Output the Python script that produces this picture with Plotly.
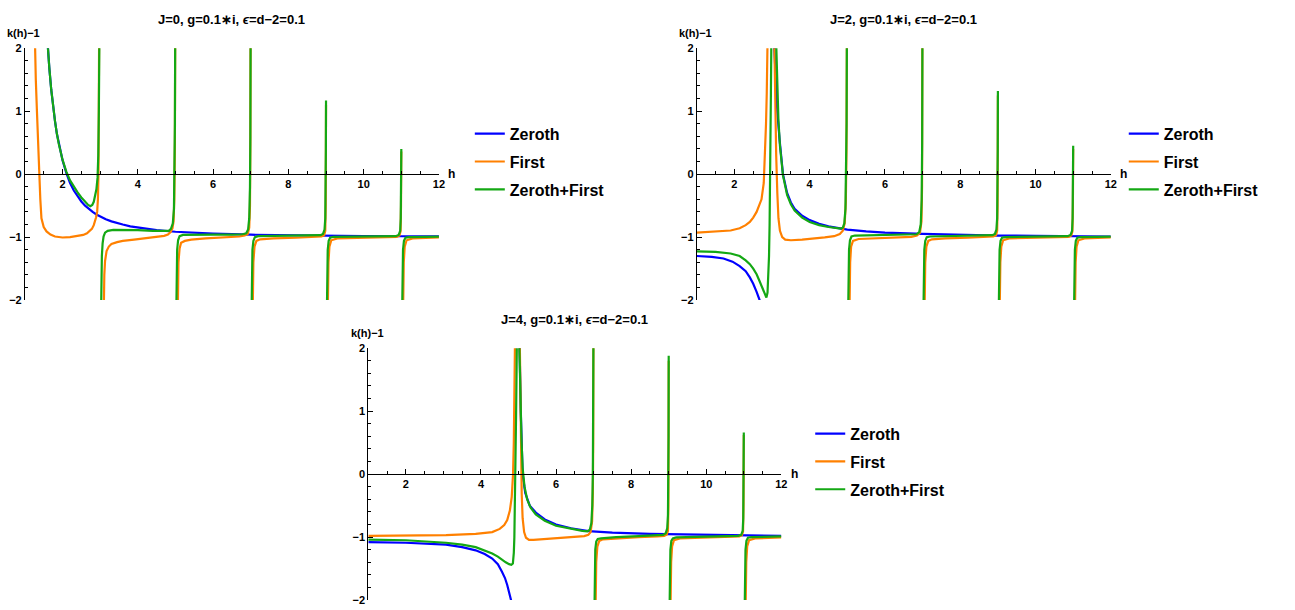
import plotly.graph_objects as go

# ── data (None = break between branches) ────────────────────────────────

TITLES = ["J=0, g=0.1∗i, <i>ϵ</i>=d−2=0.1",
          "J=2, g=0.1∗i, <i>ϵ</i>=d−2=0.1",
          "J=4, g=0.1∗i, <i>ϵ</i>=d−2=0.1"]
SERIES = ["Zeroth", "First", "Zeroth+First"]
X_TICKS = [2, 4, 6, 8, 10, 12]
Y_TICKS = [-2, -1, 0, 1, 2]

# J = 0
J0_ZEROTH_H = [1.58, 1.6, 1.65, 1.7, 1.75, 1.8, 1.85, 1.9, 2.0, 2.1, 2.2, 2.3, 2.4, 2.5, 2.6, 2.7,
               2.8, 2.9, 3.0, 3.15, 3.3, 3.45, 3.6, 3.8, 4.0, 4.25, 4.5, 5.0, 5.5, 6.0, 7.0, 8.0,
               9.0, 10.0, 11.0, 12.0]
J0_ZEROTH_Y = [2.28, 2.09, 1.68, 1.34, 1.07, 0.84, 0.64, 0.48, 0.22, 0.02, -0.14, -0.26, -0.355,
               -0.434, -0.50, -0.554, -0.60, -0.64, -0.675, -0.717, -0.75, -0.78, -0.80, -0.83,
               -0.85, -0.873, -0.89, -0.915, -0.933, -0.945, -0.962, -0.972, -0.978, -0.983,
               -0.986, -0.989]
J0_FIRST_H = [1.25, 1.265, 1.29, 1.32, 1.35, 1.38, 1.41, 1.44, 1.5, 1.575, 1.68, 1.8, 2.0, 2.2,
              2.4, 2.55, 2.65, 2.72, 2.78, 2.83, 2.86, 2.89, 2.92, 2.94, 2.955, 2.965, 2.975, None,
              3.085, 3.095, 3.11, 3.13, 3.17, 3.23, 3.3, 3.45, 3.6, 3.9, 4.2, 4.5, 4.7, 4.8, 4.87,
              4.92, 4.95, 4.97, 4.985, 4.995, None,
              5.055, 5.065, 5.08, 5.11, 5.15, 5.25, 5.42, 5.8, 6.3, 6.7, 6.84, 6.92, 6.96, 6.98,
              6.99, 6.997, None,
              7.045, 7.055, 7.07, 7.1, 7.15, 7.25, 7.6, 8.2, 8.7, 8.88, 8.95, 8.98, 8.992, 9.0, None,
              9.04, 9.05, 9.065, 9.09, 9.14, 9.3, 9.8, 10.5, 10.88, 10.95, 10.98, 10.992, 11.0, None,
              11.04, 11.05, 11.065, 11.09, 11.14, 11.3, 11.7, 12.0]
J0_FIRST_Y = [2.6, 2.0, 1.5, 1.0, 0.45, 0.0, -0.4, -0.7, -0.84, -0.91, -0.96, -0.99, -1.006, -1.0,
              -0.985, -0.965, -0.94, -0.91, -0.87, -0.81, -0.76, -0.69, -0.6, -0.4, 0.0, 0.8, 2.5, None,
              -2.6, -2.0, -1.6, -1.38, -1.22, -1.15, -1.11, -1.08, -1.06, -1.04, -1.02, -1.0, -0.98,
              -0.96, -0.92, -0.86, -0.75, -0.4, 0.5, 2.5, None,
              -2.5, -1.8, -1.4, -1.18, -1.09, -1.06, -1.04, -1.02, -1.005, -0.99, -0.975, -0.95,
              -0.85, -0.5, 0.5, 2.5, None,
              -2.5, -1.8, -1.4, -1.15, -1.06, -1.035, -1.02, -1.01, -1.0, -0.99, -0.97, -0.9, -0.5,
              1.1, None,
              -2.5, -1.8, -1.4, -1.15, -1.05, -1.02, -1.01, -1.005, -0.995, -0.975, -0.91, -0.5, 0.36,
              None,
              -2.5, -1.8, -1.4, -1.15, -1.05, -1.02, -1.01, -1.005]
J0_SUM_H = [1.58, 1.6, 1.65, 1.7, 1.75, 1.8, 1.85, 1.9, 2.0, 2.1, 2.2, 2.3, 2.4, 2.5, 2.6, 2.68,
            2.74, 2.79, 2.83, 2.87, 2.9, 2.93, 2.95, 2.965, 2.975, 2.985, None,
            3.015, 3.022, 3.03, 3.045, 3.065, 3.09, 3.13, 3.2, 3.35, 3.6, 4.0, 4.4, 4.7, 4.82, 4.88,
            4.93, 4.96, 4.975, 4.985, 4.995, None,
            5.015, 5.022, 5.03, 5.045, 5.07, 5.11, 5.2, 5.5, 6.0, 6.5, 6.78, 6.88, 6.93, 6.96, 6.98,
            6.99, 6.998, None,
            7.015, 7.022, 7.03, 7.045, 7.07, 7.11, 7.2, 7.6, 8.2, 8.7, 8.85, 8.92, 8.96, 8.98, 8.99,
            8.996, 9.0, None,
            9.015, 9.022, 9.03, 9.045, 9.07, 9.11, 9.2, 9.8, 10.5, 10.85, 10.93, 10.97, 10.985,
            10.993, 11.0, None,
            11.015, 11.022, 11.03, 11.045, 11.07, 11.11, 11.2, 11.6, 12.0]
J0_SUM_Y = [2.28, 2.09, 1.68, 1.34, 1.07, 0.84, 0.64, 0.48, 0.23, 0.04, -0.1, -0.2, -0.29, -0.37,
            -0.44, -0.49, -0.51, -0.49, -0.44, -0.35, -0.24, -0.06, 0.3, 1.0, 1.8, 2.6, None,
            -2.6, -2.0, -1.6, -1.3, -1.1, -0.99, -0.93, -0.9, -0.885, -0.885, -0.89, -0.9, -0.905,
            -0.9, -0.87, -0.78, -0.55, 0.0, 0.8, 2.5, None,
            -2.5, -1.9, -1.5, -1.2, -1.05, -0.985, -0.965, -0.96, -0.96, -0.96, -0.955, -0.94,
            -0.88, -0.7, -0.2, 0.6, 2.5, None,
            -2.5, -1.9, -1.5, -1.2, -1.06, -1.0, -0.985, -0.98, -0.978, -0.975, -0.97, -0.95,
            -0.88, -0.7, -0.3, 0.4, 1.17, None,
            -2.5, -1.9, -1.5, -1.2, -1.06, -1.01, -0.995, -0.99, -0.988, -0.985, -0.965, -0.9,
            -0.7, -0.3, 0.4, None,
            -2.5, -1.9, -1.5, -1.2, -1.06, -1.01, -1.0, -0.995, -0.993]

# J = 2
J2_ZEROTH_H = [1.0, 1.4, 1.71, 1.95, 2.14, 2.3, 2.41, 2.5, 2.59, 2.67, 2.72, None,
               3.02, 3.06, 3.1, 3.14, 3.2, 3.29, 3.4, 3.5, 3.6, 3.8, 4.0, 4.25, 4.5, 5.0, 5.5, 6.0,
               7.0, 8.0, 9.0, 10.0, 11.0, 12.0]
J2_ZEROTH_Y = [-1.30, -1.315, -1.34, -1.39, -1.46, -1.54, -1.64, -1.74, -1.87, -2.0, -2.15, None,
               2.5, 2.0, 1.45, 1.0, 0.55, 0.0, -0.3, -0.45, -0.55, -0.66, -0.73, -0.79, -0.83,
               -0.88, -0.91, -0.93, -0.95, -0.965, -0.975, -0.98, -0.985, -0.99]
J2_FIRST_H = [1.0, 1.5, 1.9, 2.14, 2.3, 2.41, 2.5, 2.59, 2.66, 2.72, 2.78, 2.815, 2.84, 2.86, 2.875,
              2.89, None,
              3.05, 3.07, 3.09, 3.11, 3.14, 3.17, 3.21, 3.27, 3.35, 3.5, 3.8, 4.1, 4.4, 4.65, 4.8,
              4.88, 4.93, 4.96, 4.978, 4.99, None,
              5.05, 5.06, 5.075, 5.1, 5.15, 5.3, 5.7, 6.3, 6.7, 6.85, 6.93, 6.97, 6.985, 6.995, None,
              7.045, 7.055, 7.07, 7.1, 7.15, 7.25, 7.6, 8.2, 8.7, 8.88, 8.95, 8.98, 8.992, 9.0, None,
              9.04, 9.05, 9.065, 9.09, 9.14, 9.3, 9.8, 10.5, 10.88, 10.95, 10.98, 10.992, 11.0, None,
              11.04, 11.05, 11.065, 11.09, 11.14, 11.3, 11.7, 12.0]
J2_FIRST_Y = [-0.93, -0.915, -0.895, -0.86, -0.81, -0.76, -0.69, -0.6, -0.5, -0.4, -0.14, 0.3, 0.8,
              1.3, 1.8, 2.5, None,
              2.5, 1.5, 0.9, 0.3, -0.3, -0.7, -0.9, -1.0, -1.04, -1.05, -1.04, -1.025, -1.005,
              -0.985, -0.95, -0.9, -0.78, -0.45, 0.4, 2.5, None,
              -2.5, -1.8, -1.4, -1.15, -1.06, -1.03, -1.02, -1.005, -0.995, -0.975, -0.93, -0.75,
              -0.2, 2.5, None,
              -2.5, -1.8, -1.4, -1.15, -1.06, -1.035, -1.02, -1.01, -1.0, -0.99, -0.97, -0.9, -0.5,
              1.25, None,
              -2.5, -1.8, -1.4, -1.15, -1.05, -1.02, -1.01, -1.005, -0.995, -0.975, -0.91, -0.5, 0.4,
              None,
              -2.5, -1.8, -1.4, -1.15, -1.05, -1.02, -1.01, -1.005]
J2_SUM_H = [1.0, 1.5, 1.9, 2.14, 2.3, 2.41, 2.5, 2.59, 2.67, 2.74, 2.8, 2.85, 2.88, 2.9, 2.92, 2.935,
            2.95, 2.96, 2.97, 2.98, 2.99, None,
            3.09, 3.11, 3.14, 3.17, 3.21, 3.29, 3.4, 3.5, 3.6, 3.8, 4.0, 4.25, 4.5, 4.7, 4.82, 4.88,
            4.92, 4.95, 4.97, 4.98, 4.99, None,
            5.015, 5.022, 5.03, 5.045, 5.07, 5.11, 5.2, 5.6, 6.2, 6.7, 6.84, 6.91, 6.95, 6.975,
            6.988, 6.997, None,
            7.015, 7.022, 7.03, 7.045, 7.07, 7.11, 7.2, 7.6, 8.2, 8.7, 8.85, 8.92, 8.96, 8.98, 8.99,
            8.996, 9.0, None,
            9.015, 9.022, 9.03, 9.045, 9.07, 9.11, 9.2, 9.8, 10.5, 10.85, 10.93, 10.97, 10.985,
            10.993, 11.0, None,
            11.015, 11.022, 11.03, 11.045, 11.07, 11.11, 11.2, 11.6, 12.0]
J2_SUM_Y = [-1.225, -1.235, -1.26, -1.30, -1.37, -1.43, -1.5, -1.59, -1.7, -1.8, -1.9, -1.96, -1.88,
            -1.65, -1.3, -0.8, -0.2, 0.5, 1.3, 2.0, 2.6, None,
            2.5, 2.0, 1.3, 0.85, 0.45, -0.02, -0.33, -0.48, -0.58, -0.69, -0.76, -0.81, -0.84,
            -0.855, -0.865, -0.85, -0.78, -0.55, 0.0, 0.8, 2.5, None,
            -2.5, -1.9, -1.5, -1.2, -1.05, -0.99, -0.975, -0.97, -0.965, -0.96, -0.955, -0.92,
            -0.8, -0.4, 0.5, 2.5, None,
            -2.5, -1.9, -1.5, -1.2, -1.06, -1.0, -0.99, -0.985, -0.98, -0.978, -0.97, -0.95,
            -0.88, -0.7, -0.3, 0.4, 1.32, None,
            -2.5, -1.9, -1.5, -1.2, -1.06, -1.01, -1.0, -0.995, -0.99, -0.985, -0.965, -0.9,
            -0.7, -0.3, 0.45, None,
            -2.5, -1.9, -1.5, -1.2, -1.06, -1.01, -1.0, -0.995, -0.993]

# J = 4
J4_ZEROTH_H = [1.0, 2.0, 3.07, 3.5, 3.86, 4.1, 4.3, 4.45, 4.56, 4.64, 4.7, 4.75, 4.78, 4.81, 4.84,
               None,
               5.0, 5.03, 5.06, 5.11, 5.18, 5.3, 5.46, 5.7, 6.0, 6.4, 6.86, 7.5, 8.5, 9.5, 10.5, 12.0]
J4_ZEROTH_Y = [-1.08, -1.09, -1.12, -1.16, -1.21, -1.27, -1.34, -1.43, -1.55, -1.65, -1.76, -1.86,
               -1.94, -2.02, -2.2, None,
               2.5, 2.0, 1.0, 0.0, -0.3, -0.5, -0.61, -0.72, -0.8, -0.86, -0.905, -0.93, -0.95,
               -0.96, -0.97, -0.98]
J4_FIRST_H = [1.0, 2.0, 3.07, 3.86, 4.3, 4.5, 4.62, 4.7, 4.77, 4.82, 4.855, 4.875, 4.89, 4.9, 4.91,
              4.92, None,
              5.02, 5.035, 5.05, 5.065, 5.085, 5.11, 5.15, 5.2, 5.28, 5.4, 5.7, 6.1, 6.5, 6.75,
              6.86, 6.92, 6.96, 6.98, 6.99, 6.997, None,
              7.045, 7.055, 7.07, 7.1, 7.15, 7.25, 7.6, 8.2, 8.7, 8.88, 8.95, 8.98, 8.992, 9.0, None,
              9.04, 9.05, 9.065, 9.09, 9.14, 9.3, 9.8, 10.5, 10.88, 10.95, 10.98, 10.992, 11.0, None,
              11.04, 11.05, 11.065, 11.09, 11.14, 11.3, 11.7, 12.0]
J4_FIRST_Y = [-0.98, -0.975, -0.97, -0.95, -0.92, -0.87, -0.81, -0.73, -0.58, -0.36, 0.0, 0.5,
              1.1, 1.7, 2.2, 2.8, None,
              2.8, 1.8, 1.0, 0.3, -0.3, -0.7, -0.92, -1.01, -1.045, -1.045, -1.03, -1.015, -1.0,
              -0.985, -0.965, -0.92, -0.75, -0.3, 0.5, 2.5, None,
              -2.5, -1.8, -1.4, -1.15, -1.06, -1.035, -1.02, -1.0, -0.99, -0.98, -0.96, -0.9, -0.5,
              1.8, None,
              -2.5, -1.8, -1.4, -1.15, -1.05, -1.02, -1.01, -1.0, -0.99, -0.97, -0.91, -0.5, 0.62,
              None,
              -2.5, -1.8, -1.4, -1.15, -1.05, -1.02, -1.01, -1.005]
J4_SUM_H = [1.0, 2.0, 3.07, 3.5, 3.86, 4.1, 4.3, 4.45, 4.56, 4.66, 4.75, 4.81, 4.85, 4.875, 4.89,
            4.905, 4.92, 4.935, 4.95, 4.965, None,
            5.0, 5.02, 5.05, 5.08, 5.11, 5.16, 5.23, 5.32, 5.46, 5.7, 6.0, 6.4, 6.7, 6.83, 6.9,
            6.94, 6.965, 6.98, 6.99, 6.998, None,
            7.015, 7.022, 7.03, 7.045, 7.07, 7.11, 7.2, 7.6, 8.2, 8.7, 8.85, 8.92, 8.96, 8.98, 8.99,
            8.996, 9.0, None,
            9.015, 9.022, 9.03, 9.045, 9.07, 9.11, 9.2, 9.8, 10.5, 10.85, 10.93, 10.97, 10.985,
            10.993, 11.0, None,
            11.015, 11.022, 11.03, 11.045, 11.07, 11.11, 11.2, 11.6, 12.0]
J4_SUM_Y = [-1.04, -1.05, -1.09, -1.12, -1.16, -1.21, -1.26, -1.31, -1.36, -1.4, -1.43, -1.44,
            -1.42, -1.25, -1.0, -0.5, 0.1, 0.9, 1.7, 2.6, None,
            2.6, 2.0, 1.2, 0.55, 0.1, -0.2, -0.4, -0.53, -0.64, -0.74, -0.82, -0.87, -0.9, -0.91,
            -0.88, -0.78, -0.5, 0.0, 0.8, 2.5, None,
            -2.5, -1.9, -1.5, -1.2, -1.07, -1.03, -1.02, -1.0, -0.985, -0.975, -0.965, -0.94,
            -0.86, -0.65, -0.2, 0.6, 1.88, None,
            -2.5, -1.9, -1.5, -1.2, -1.06, -1.02, -1.005, -0.995, -0.985, -0.98, -0.965, -0.9,
            -0.7, -0.3, 0.66, None,
            -2.5, -1.9, -1.5, -1.2, -1.06, -1.01, -1.0, -0.995, -0.99]

PANEL_DATA = [
    [(J0_ZEROTH_H, J0_ZEROTH_Y), (J0_FIRST_H, J0_FIRST_Y), (J0_SUM_H, J0_SUM_Y)],
    [(J2_ZEROTH_H, J2_ZEROTH_Y), (J2_FIRST_H, J2_FIRST_Y), (J2_SUM_H, J2_SUM_Y)],
    [(J4_ZEROTH_H, J4_ZEROTH_Y), (J4_FIRST_H, J4_FIRST_Y), (J4_SUM_H, J4_SUM_Y)],
]

# ── layout (pixel boxes of the reference, 1295 x 610) ───────────────────

W, H = 1295, 610
COLORS = ["#0000FF", "#FF8000", "#14A814"]
FONT = "Liberation Sans, Arial, sans-serif"

# plot box: left, right, top, bottom  / legend left, legend top
BOXES = [
    dict(l=25, r=441, t=43, b=300, leg=(472, 113)),
    dict(l=700, r=1116, t=43, b=300, leg=(1129, 113)),
    dict(l=370, r=785, t=349, b=606, leg=(814, 419)),
]


def px_x(v):
    return v / W


def px_y(v):
    return 1 - v / H


fig = go.Figure()
annotations = []

for i, (box, title, data) in enumerate(zip(BOXES, TITLES, PANEL_DATA)):
    n = "" if i == 0 else str(i + 1)
    leg = "legend" + n
    for name, color, (hx, hy) in zip(SERIES, COLORS, data):
        fig.add_trace(go.Scatter(
            x=hx, y=hy, mode="lines", name=name, legend=leg,
            legendgroup=f"{name}{i}",
            line=dict(color=color, width=2.2),
            connectgaps=False, xaxis="x" + n, yaxis="y" + n,
        ))

    zero_y = box["t"] + (box["b"] - box["t"]) / 2
    fig.layout["xaxis" + n] = dict(
        domain=[px_x(box["l"]), px_x(box["r"])], range=[1, 12],
        anchor="free", position=px_y(zero_y),
        showline=True, linecolor="black", linewidth=1,
        showgrid=False, zeroline=False,
        tickvals=X_TICKS, ticks="inside", ticklen=5, tickcolor="black",
        minor=dict(dtick=0.5, tick0=0, ticks="inside", ticklen=3, tickcolor="black",
                   showgrid=False),
        tickfont=dict(family=FONT, size=11, color="black", weight="bold"),
    )
    fig.layout["yaxis" + n] = dict(
        domain=[px_y(box["b"]), px_y(box["t"])], range=[-2, 2],
        anchor="x" + n,
        showline=True, linecolor="black", linewidth=1,
        showgrid=False, zeroline=False,
        tickvals=Y_TICKS, ticks="inside", ticklen=5, tickcolor="black",
        minor=dict(dtick=0.2, tick0=0, ticks="inside", ticklen=3, tickcolor="black",
                   showgrid=False),
        tickfont=dict(family=FONT, size=11, color="black", weight="bold"),
    )
    fig.layout[leg] = dict(
        x=px_x(box["leg"][0]), y=px_y(box["leg"][1]), xanchor="left", yanchor="top",
        bgcolor="rgba(0,0,0,0)", tracegroupgap=4, itemwidth=30,
        font=dict(family=FONT, size=16, color="black", weight="bold"),
    )

    annotations += [
        dict(text=f"<b>{title}</b>", x=px_x((box["l"] + box["r"]) / 2), y=px_y(box["t"] - 29),
             xref="paper", yref="paper", showarrow=False, xanchor="center", yanchor="middle",
             font=dict(family=FONT, size=13, color="black")),
        dict(text="<b>k(h)−1</b>", x=px_x(box["l"] - 1), y=px_y(box["t"] - 15),
             xref="paper", yref="paper", showarrow=False, xanchor="center", yanchor="middle",
             font=dict(family=FONT, size=11, color="black")),
        dict(text="<b>h</b>", x=px_x(box["r"] + 13), y=px_y(zero_y),
             xref="paper", yref="paper", showarrow=False, xanchor="center", yanchor="middle",
             font=dict(family=FONT, size=12, color="black")),
    ]

fig.update_layout(
    width=W, height=H,
    margin=dict(l=0, r=0, t=0, b=0),
    paper_bgcolor="white", plot_bgcolor="white",
    annotations=annotations,
    showlegend=True,
)

# the page's default 8px body margin would shift the whole figure
fig.write_html("out.html",
               config={"displayModeBar": False},
               post_script="document.body.style.margin='0px';"
                           "document.body.style.overflow='hidden';")
